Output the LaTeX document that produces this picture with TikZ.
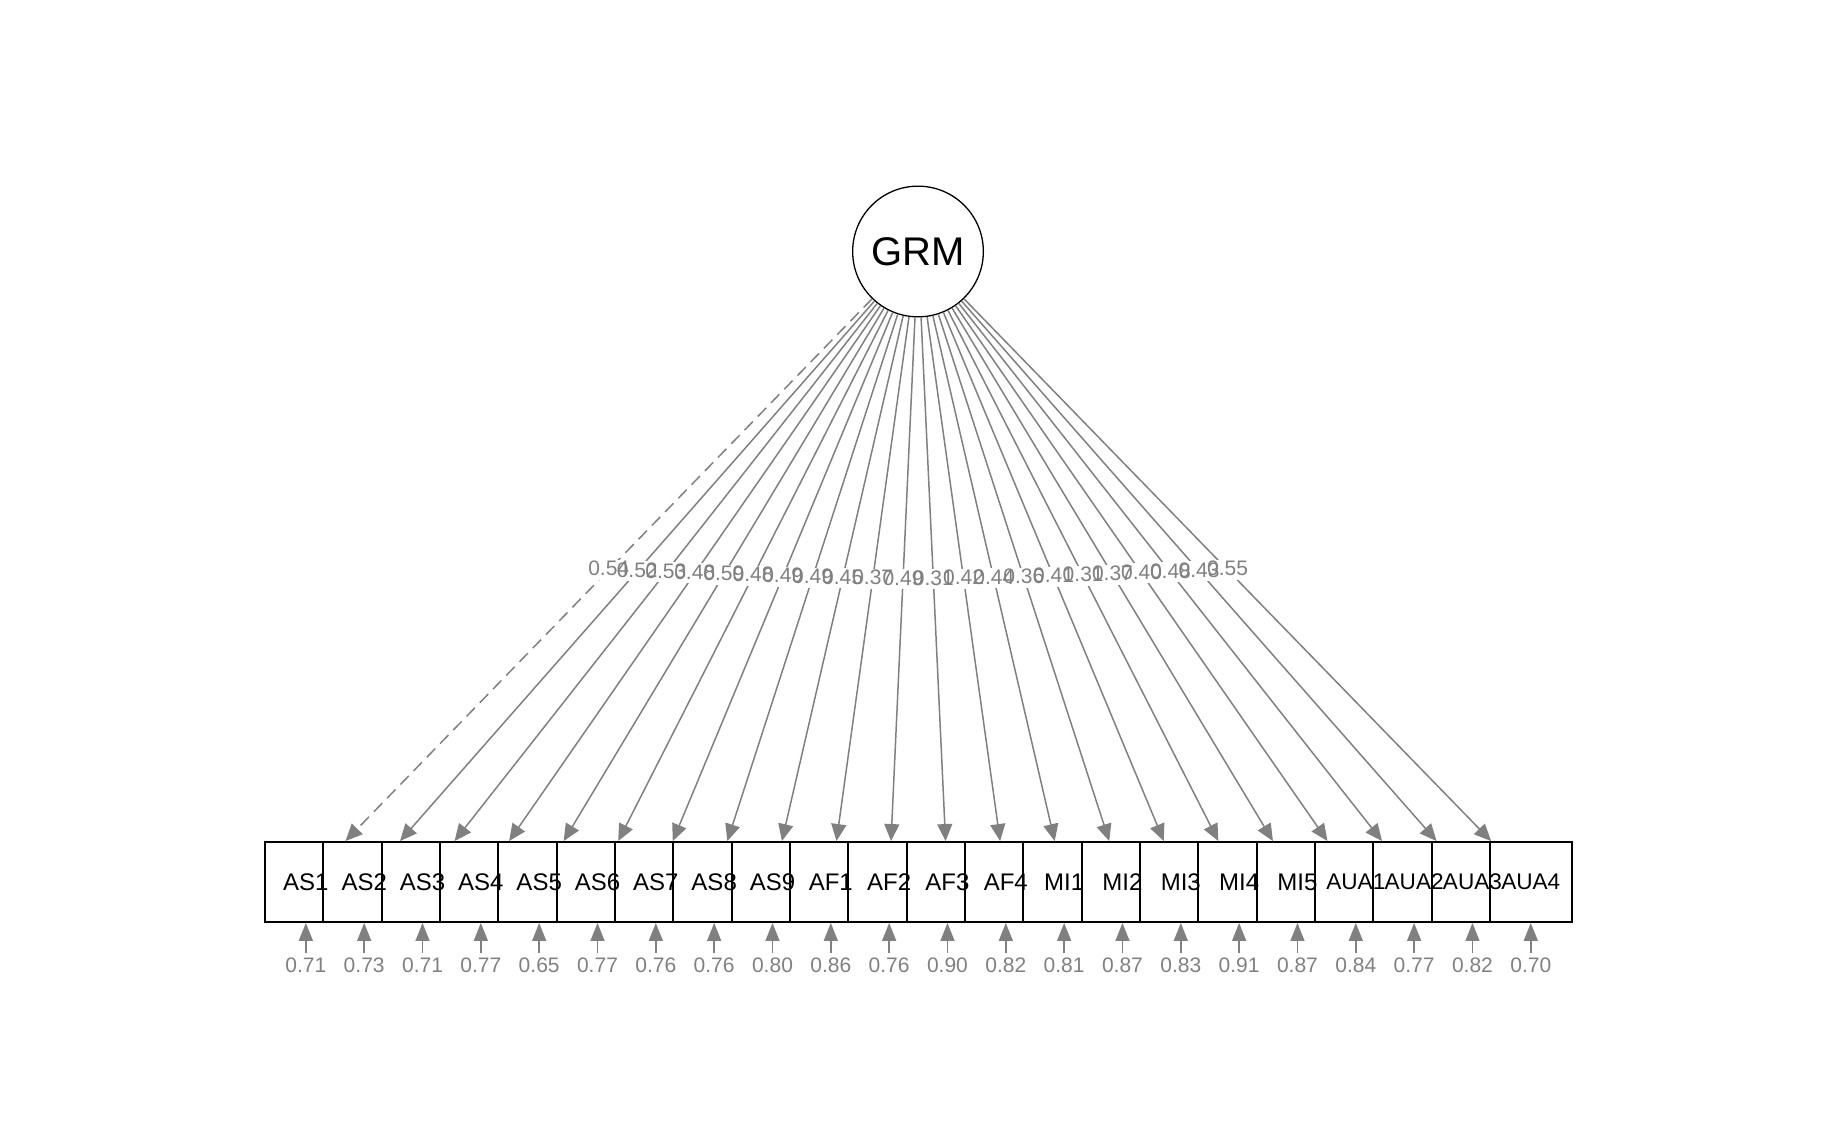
\documentclass[tikz,border=0pt]{standalone}
\usepackage{fontspec}
\setmainfont{Liberation Sans}
\usetikzlibrary{arrows.meta}
\definecolor{edgegray}{RGB}{128,128,128}
\tikzset{
  latent/.style={circle, draw=black, line width=0.65pt, fill=white, minimum size=65.35pt, inner sep=0pt, font=\fontsize{20}{24}\selectfont},
  manifest/.style={rectangle, draw=black, line width=0.95pt, fill=white, minimum width=40.85pt, minimum height=40pt, inner sep=0pt},
  mlabel/.style={inner sep=0pt, font=\fontsize{12}{14}\selectfont},
  alabel/.style={inner sep=0pt, font=\fontsize{11.3}{13}\selectfont},
  loading/.style={draw=edgegray, line width=0.75pt, -{Triangle[length=8.5pt,width=7.5pt]}, edgegray},
  dashedloading/.style={loading, dash pattern=on 6pt off 3.5pt},
  residual/.style={draw=edgegray, line width=0.75pt, -{Triangle[length=9pt,width=7pt]}, edgegray},
  lblbg/.style={fill=white, inner sep=0pt, text height=8pt, text depth=2pt, font=\fontsize{10.5}{12}\selectfont},
  lbltext/.style={inner sep=0pt, text=edgegray, text height=8pt, text depth=2pt, font=\fontsize{10.5}{12}\selectfont},
  restext/.style={inner sep=0pt, text=edgegray, font=\fontsize{10.5}{12}\selectfont}
}
\begin{document}
\begin{tikzpicture}[x=0.5pt,y=-0.5pt]
\useasboundingbox (0,0) rectangle (1837,1135);
% boxes
\foreach \i in {1,...,22}{
  \node[manifest] (b\i) at ({305.85+(\i-1)*58.33},882) {};
}
% latent
\node[latent] (GRM) at (918,251.5) {GRM};
% loadings
\draw[dashedloading] (GRM) -- node[lblbg] (bg1) {\phantom{0.54}} (b1);
\foreach \i/\v in {2/0.52,3/0.53,4/0.48,5/0.59,6/0.48,7/0.49,8/0.49,9/0.45,10/0.37,11/0.49,12/0.31,13/0.42,14/0.44,15/0.36,16/0.41,17/0.31,18/0.37,19/0.40,20/0.48,21/0.43,22/0.55}{
  \draw[loading] (GRM) -- node[lblbg] (bg\i) {\phantom{\v}} (b\i);
}
\foreach \i/\v in {1/0.54,2/0.52,3/0.53,4/0.48,5/0.59,6/0.48,7/0.49,8/0.49,9/0.45,10/0.37,11/0.49,12/0.31,13/0.42,14/0.44,15/0.36,16/0.41,17/0.31,18/0.37,19/0.40,20/0.48,21/0.43,22/0.55}{
  \node[lbltext] (lt\i) at (bg\i) {\v};
}
% box labels
\foreach \i/\t in {1/AS1,2/AS2,3/AS3,4/AS4,5/AS5,6/AS6,7/AS7,8/AS8,9/AS9,10/AF1,11/AF2,12/AF3,13/AF4,14/MI1,15/MI2,16/MI3,17/MI4,18/MI5}{
  \node[mlabel] (t\i) at (b\i) {\t};
}
\foreach \i/\t in {19/AUA1,20/AUA2,21/AUA3,22/AUA4}{
  \node[alabel] (t\i) at (b\i) {\t};
}
% residuals
\foreach \i/\v in {1/0.71,2/0.73,3/0.71,4/0.77,5/0.65,6/0.77,7/0.76,8/0.76,9/0.80,10/0.86,11/0.76,12/0.90,13/0.82,14/0.81,15/0.87,16/0.83,17/0.91,18/0.87,19/0.84,20/0.77,21/0.82,22/0.70}{
  \coordinate (r\i) at ({305.85+(\i-1)*58.33},953);
  \draw[residual] (r\i) -- (b\i);
  \node[restext] (e\i) at ({305.85+(\i-1)*58.33},965) {\v};
}
\end{tikzpicture}
\end{document}
